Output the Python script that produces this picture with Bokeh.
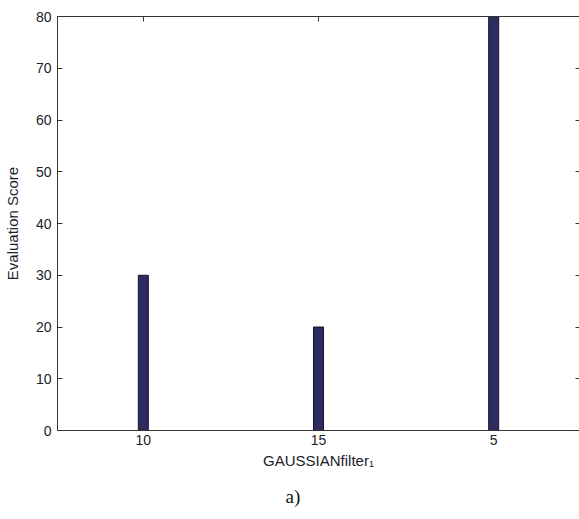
from bokeh.plotting import figure
from bokeh.models import Range1d, LinearAxis, FixedTicker, Title, ColumnDataSource
from bokeh.embed import file_html
from bokeh.resources import INLINE

# Data
categories = ["10", "15", "5"]
scores = [30, 20, 80]
y_ticks = [0, 10, 20, 30, 40, 50, 60, 70, 80]

positions = list(range(1, len(categories) + 1))
source = ColumnDataSource(data=dict(x=positions, score=scores, cat=categories))

FONT = "Liberation Sans"
TXT = "#1c1c2a"
SPINE = "#333333"

p = figure(width=579, height=519, output_backend="svg", toolbar_location=None,
           x_range=Range1d(0.51, 3.49), y_range=Range1d(0, 80),
           min_border_left=57, min_border_top=16, min_border_right=0,
           min_border_bottom=89)
p.outline_line_color = None
p.grid.visible = False
p.background_fill_color = "white"
p.border_fill_color = "white"

p.vbar(x="x", top="score", width=0.057, source=source,
       fill_color="#2d2b63", line_color="#141428", line_width=1)

label_map = {pos: cat for pos, cat in zip(positions, categories)}

# Left axis
ya = p.yaxis[0]
ya.ticker = FixedTicker(ticks=y_ticks)
ya.major_tick_in = 5
ya.major_tick_out = 0
ya.minor_tick_in = 0
ya.minor_tick_out = 0
ya.major_label_standoff = 6
ya.major_label_text_font = FONT
ya.major_label_text_font_size = "14px"
ya.major_label_text_color = TXT
ya.axis_line_color = SPINE
ya.major_tick_line_color = SPINE
ya.axis_label = "Evaluation Score"
ya.axis_label_text_font = FONT
ya.axis_label_text_font_size = "15px"
ya.axis_label_text_font_style = "normal"
ya.axis_label_text_color = TXT
ya.axis_label_standoff = 12

# Bottom axis with title
xa = p.xaxis[0]
xa.ticker = FixedTicker(ticks=positions)
xa.major_label_overrides = label_map
xa.major_tick_in = 5
xa.major_tick_out = 0
xa.minor_tick_in = 0
xa.minor_tick_out = 0
xa.major_label_standoff = 4
xa.major_label_text_font = FONT
xa.major_label_text_font_size = "14px"
xa.major_label_text_color = TXT
xa.axis_line_color = SPINE
xa.major_tick_line_color = SPINE
xa.axis_label = "GAUSSIANfilter\u2081"
xa.axis_label_text_font = FONT
xa.axis_label_text_font_size = "15px"
xa.axis_label_text_font_style = "normal"
xa.axis_label_text_color = TXT
xa.axis_label_standoff = 4

# Top axis: spine with inward ticks, no labels
top = LinearAxis(ticker=FixedTicker(ticks=positions), major_tick_in=5,
                 major_tick_out=0, minor_tick_in=0, minor_tick_out=0,
                 major_label_overrides={t: "" for t in positions},
                 major_label_standoff=0,
                 axis_line_color=SPINE, major_tick_line_color=SPINE)
p.add_layout(top, "above")

# Right axis: inward ticks only
right = LinearAxis(ticker=FixedTicker(ticks=y_ticks), major_tick_in=4,
                   major_tick_out=0, minor_tick_in=0, minor_tick_out=0,
                   major_label_overrides={t: "" for t in y_ticks},
                   major_label_standoff=0,
                   axis_line_color=None, major_tick_line_color=SPINE)
p.add_layout(right, "right")

# Panel caption under the chart
caption = Title(text="a)", align="left", text_font="Liberation Serif",
                text_font_size="19px", text_font_style="normal",
                text_color="#111111", standoff=24, offset=228)
p.add_layout(caption, "below")

open("out.html", "w").write(file_html(p, INLINE))
